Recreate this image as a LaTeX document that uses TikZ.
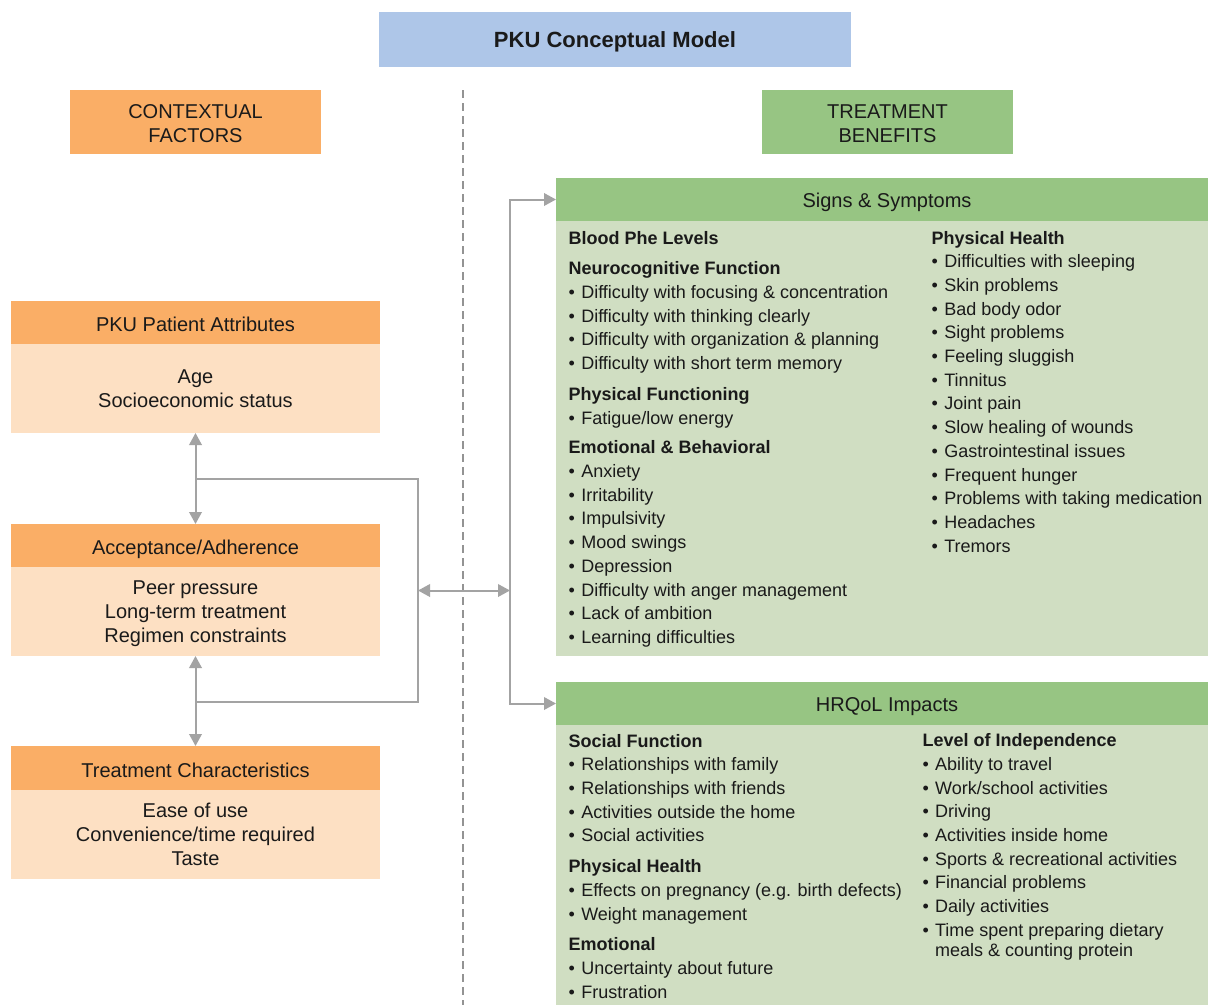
\documentclass[tikz,border=0pt]{standalone}
\usepackage{fontspec}
\setmainfont{Liberation Sans}
\usetikzlibrary{arrows.meta}
\definecolor{tblue}{HTML}{AEC6E8}
\definecolor{torange}{HTML}{FAAE66}
\definecolor{tlorange}{HTML}{FDE0C3}
\definecolor{tgreen}{HTML}{97C583}
\definecolor{tlgreen}{HTML}{D0DEC2}
\definecolor{tgray}{HTML}{A3A3A3}
\definecolor{ttext}{HTML}{1A1A1A}
\newcommand\itm[1]{\makebox[12.6pt][l]{•}#1}
\newcommand\hdg[1]{\textbf{#1}}
\newcommand\hstrut{\rule{0pt}{17pt}}
\begin{document}
\begin{tikzpicture}[x=1pt,y=-1pt,
  box/.style={inner sep=0pt, outer sep=0pt, anchor=north west, text=ttext, align=center,
              font=\fontsize{20}{24}\selectfont},
  oneline/.style={text height=18pt, text depth=0pt},
  ln/.style={inner sep=0pt, outer sep=0pt, anchor=base west, text=ttext,
              font=\fontsize{18}{22}\selectfont},
  hdtext/.style={inner sep=0pt, anchor=base, text=ttext, font=\fontsize{20}{24}\selectfont},
  conn/.style={draw=tgray, line width=2pt, arrows={-}},
  tip/.tip={Triangle[length=12pt,width=12.5pt,fill=tgray,color=tgray]},
  dashline/.style={draw=tgray!90!black, line width=1.4pt, dash pattern=on 8pt off 5pt}]
\useasboundingbox (0,0) rectangle (1208,1005);
\fill[white] (0,0) rectangle (1208,1005);

% title and column headings
\node[box, fill=tblue, minimum width=472pt, minimum height=55pt, text height=16.8pt, text depth=0pt,
      font=\fontsize{22}{26}\selectfont\bfseries] (title) at (379,12) {PKU Conceptual Model};
\node[box, fill=torange, minimum width=251pt, minimum height=64pt] (ctx) at (70,90) {\hstrut CONTEXTUAL\\FACTORS};
\node[box, fill=tgreen, minimum width=251pt, minimum height=64pt] (tb) at (762,90) {\hstrut TREATMENT\\BENEFITS};

% dashed separator
\coordinate (dt) at (463,90);
\coordinate (db) at (463,1005);
\draw[dashline] (dt) -- (db);

% left boxes
\node[box, oneline, fill=torange, minimum width=369pt, minimum height=43pt] (pah) at (11,301) {PKU Patient Attributes};
\node[box, fill=tlorange, minimum width=369pt, minimum height=89pt] (pab) at (11,344) {Age\\Socioeconomic status};
\node[box, oneline, fill=torange, minimum width=369pt, minimum height=43pt] (aah) at (11,524) {Acceptance/Adherence};
\node[box, fill=tlorange, minimum width=369pt, minimum height=89pt] (aab) at (11,567) {Peer pressure\\Long-term treatment\\\smash{Regimen constraints}};
\node[box, oneline, fill=torange, minimum width=369pt, minimum height=44pt] (tch) at (11,746) {Treatment Characteristics};
\node[box, fill=tlorange, minimum width=369pt, minimum height=89pt] (tcb) at (11,790) {Ease of use\\Convenience/time required\\Taste};

% right boxes
\node[box, fill=tgreen, minimum width=652pt, minimum height=43pt] (ssh) at (556,178) {};
\node[box, fill=tlgreen, minimum width=652pt, minimum height=435pt] (ssb) at (556,221) {};
\node[box, fill=tgreen, minimum width=652pt, minimum height=43pt] (hqh) at (556,682) {};
\node[box, fill=tlgreen, minimum width=652pt, minimum height=280pt] (hqb) at (556,725) {};
\node[hdtext] (sst) at (887,207.3) {Signs \& Symptoms};
\node[hdtext] (hqt) at (887,711.3) {HRQoL Impacts};

% connectors
\coordinate (bt) at (195.5,479);
\coordinate (bb) at (195.5,702);
\coordinate (jl) at (418,590.5);
\coordinate (jr) at (510,590.5);
\draw[conn, tip-tip] (pab.south) -- (aah.north);
\draw[conn, tip-tip] (aab.south) -- (tch.north);
\draw[conn] (bt) -| (jl) |- (bb);
\draw[conn, tip-tip] (jl) -- (jr);
\draw[conn, -tip] (jr) |- (ssh.west);
\draw[conn, -tip] (jr) |- (hqh.west);

% Signs & Symptoms, left column
\foreach \y/\t [count=\i] in {
  244/{\hdg{Blood Phe Levels}},
  274.5/{\hdg{Neurocognitive Function}},
  298.3/{\itm{Difficulty with focusing \& concentration}},
  322/{\itm{Difficulty with thinking clearly}},
  345.7/{\itm{Difficulty with organization \& planning}},
  369.4/{\itm{Difficulty with short term memory}},
  400.7/{\hdg{Physical Functioning}},
  424.4/{\itm{Fatigue/low energy}},
  453.4/{\hdg{Emotional \& Behavioral}},
  477.2/{\itm{Anxiety}},
  501/{\itm{Irritability}},
  524.7/{\itm{Impulsivity}},
  548.4/{\itm{Mood swings}},
  572.2/{\itm{Depression}},
  596/{\itm{Difficulty with anger management}},
  619.7/{\itm{Lack of ambition}},
  643.5/{\itm{Learning difficulties}}}
  \node[ln] (ssl\i) at (568.7,\y) {\t};

% Signs & Symptoms, right column
\foreach \y/\t [count=\i] in {
  244/{\hdg{Physical Health}},
  267.7/{\itm{Difficulties with sleeping}},
  291.4/{\itm{Skin problems}},
  315.1/{\itm{Bad body odor}},
  338.8/{\itm{Sight problems}},
  362.5/{\itm{Feeling sluggish}},
  386.2/{\itm{Tinnitus}},
  409.9/{\itm{Joint pain}},
  433.6/{\itm{Slow healing of wounds}},
  457.3/{\itm{Gastrointestinal issues}},
  481/{\itm{Frequent hunger}},
  504.7/{\itm{Problems with taking medication}},
  528.4/{\itm{Headaches}},
  552.1/{\itm{Tremors}}}
  \node[ln] (ssr\i) at (931.7,\y) {\t};

% HRQoL, left column
\foreach \y/\t [count=\i] in {
  747/{\hdg{Social Function}},
  770.7/{\itm{Relationships with family}},
  794.4/{\itm{Relationships with friends}},
  818.1/{\itm{Activities outside the home}},
  841.8/{\itm{Social activities}},
  872.5/{\hdg{Physical Health}},
  896.5/{\itm{Effects on pregnancy (e.g. birth defects)}},
  920/{\itm{Weight management}},
  950.5/{\hdg{Emotional}},
  974.5/{\itm{Uncertainty about future}},
  998/{\itm{Frustration}}}
  \node[ln] (hql\i) at (568.7,\y) {\t};

% HRQoL, right column
\foreach \y/\t [count=\i] in {
  746.5/{\hdg{Level of Independence}},
  770.3/{\itm{Ability to travel}},
  794/{\itm{Work/school activities}},
  817.7/{\itm{Driving}},
  841.4/{\itm{Activities inside home}},
  865.1/{\itm{Sports \& recreational activities}},
  888.8/{\itm{Financial problems}},
  912.5/{\itm{Daily activities}},
  936.2/{\itm{Time spent preparing dietary}},
  956.3/{\hspace*{12.6pt}meals \& counting protein}}
  \node[ln] (hqr\i) at (922.5,\y) {\t};
\end{tikzpicture}
\end{document}
